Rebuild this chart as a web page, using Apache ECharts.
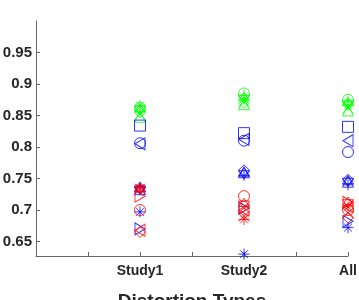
<!DOCTYPE html>
<html><head><meta charset="utf-8">
<script src="https://cdn.jsdelivr.net/npm/echarts@6/dist/echarts.min.js"></script>
<style>html,body{margin:0;padding:0;background:#fff}#c{width:359px;height:300px}</style>
</head><body><div id="c"></div>
<script>
// categories (positions 2, 4, 6 on a 0..6 axis)
const categories = ['Study1', 'Study2', 'All'];
const catPos = [2, 4, 6];
const yTicks = [0.65, 0.7, 0.75, 0.8, 0.85, 0.9, 0.95];

// green group: values for [Study1, Study2, All]
const greenCircle   = [0.862, 0.885, 0.875];
const greenPlus     = [0.857, 0.882, 0.872];
const greenStar     = [0.866, 0.876, 0.866];
const greenX        = [0.852, 0.872, 0.862];
const greenDiamond  = [0.855, 0.870, 0.868];
const greenHexagram = [0.860, 0.878, 0.870];
const greenTriangle = [0.848, 0.868, 0.858];

// blue group
const blueSquare    = [0.834, 0.822, 0.832];
const blueCircle    = [0.806, 0.810, 0.792];
const blueTriLeft   = [0.805, 0.812, 0.810];
const blueDiamond   = [0.735, 0.763, 0.748];
const blueTriUp     = [0.733, 0.760, 0.745];
const bluePlus      = [0.736, 0.755, 0.740];
const blueHexagram  = [0.733, 0.758, 0.746];
const blueStar      = [0.697, 0.630, 0.672];
const blueTriRight  = [0.670, 0.703, 0.682];

// red group
const redHexagram   = [0.734, 0.710, 0.712];
const redCircle     = [0.700, 0.722, 0.700];
const redTriRight   = [0.722, 0.703, 0.712];
const redDiamond    = [0.665, 0.695, 0.688];
const redTriLeft    = [0.668, 0.700, 0.705];
const redStar       = [0.735, 0.685, 0.705];
const redX          = [0.733, 0.690, 0.695];

const SYM = {
  circle: 'circle', square: 'rect', diamond: 'diamond', triUp: 'triangle',
  plus: 'path://M5,0L5,10M0,5L10,5',
  x: 'path://M0,0L10,10M10,0L0,10',
  star: 'path://M5,0L5,10M0,5L10,5M1.5,1.5L8.5,8.5M8.5,1.5L1.5,8.5',
  hexagram: 'path://M5,0L9.33,7.5L0.67,7.5Z M5,10L0.67,2.5L9.33,2.5Z',
  triLeft: 'path://M0,5L10,0L10,10Z',
  triRight: 'path://M10,5L0,0L0,10Z'
};
const GREEN = '#00ff00', BLUE = '#0000ff', RED = '#ff0000';

const groups = [
  [GREEN, 'circle', greenCircle], [GREEN, 'plus', greenPlus], [GREEN, 'star', greenStar],
  [GREEN, 'x', greenX], [GREEN, 'diamond', greenDiamond], [GREEN, 'hexagram', greenHexagram],
  [GREEN, 'triUp', greenTriangle],
  [BLUE, 'square', blueSquare], [BLUE, 'circle', blueCircle], [BLUE, 'triLeft', blueTriLeft],
  [BLUE, 'diamond', blueDiamond], [BLUE, 'triUp', blueTriUp], [BLUE, 'plus', bluePlus],
  [BLUE, 'hexagram', blueHexagram], [BLUE, 'star', blueStar], [BLUE, 'triRight', blueTriRight],
  [RED, 'hexagram', redHexagram], [RED, 'circle', redCircle], [RED, 'triRight', redTriRight],
  [RED, 'diamond', redDiamond], [RED, 'triLeft', redTriLeft], [RED, 'star', redStar],
  [RED, 'x', redX]
];

const series = groups.map(([col, sym, vals]) => ({
  type: 'scatter',
  symbol: SYM[sym],
  symbolSize: (sym === 'triLeft' || sym === 'triRight') ? [10, 12] : 11,
  data: vals.map((v, i) => [catPos[i], v]),
  itemStyle: { color: 'rgba(0,0,0,0)', borderColor: col, borderWidth: 1 },
  emphasis: { disabled: true },
  silent: true
}));

const axisCol = '#666666';
const chart = echarts.init(document.getElementById('c'), null, { renderer: 'canvas' });
chart.setOption({
  animation: false,
  backgroundColor: '#ffffff',
  grid: { left: 36, right: 11, top: 21, bottom: 44, containLabel: false, outerBoundsMode: 'none' },
  xAxis: {
    type: 'value', min: 0, max: 6, interval: 1,
    name: 'Distortion Types', nameLocation: 'middle', nameGap: 36,
    nameTextStyle: { fontFamily: 'Liberation Sans', fontWeight: 'bold', fontSize: 19, color: '#262626' },
    axisLine: { show: true, onZero: false, lineStyle: { color: axisCol, width: 1 } },
    axisTick: { show: true, inside: true, length: 4, lineStyle: { color: axisCol } },
    axisLabel: {
      customValues: catPos,
      formatter: v => categories[catPos.indexOf(v)] || '',
      fontFamily: 'Liberation Sans', fontWeight: 'bold', fontSize: 14, color: '#262626', margin: 8
    },
    splitLine: { show: false }
  },
  yAxis: {
    type: 'value', min: 0.627, max: 1.0,
    axisLine: { show: true, lineStyle: { color: axisCol, width: 1 } },
    axisTick: { show: true, inside: true, length: 4, customValues: yTicks, lineStyle: { color: axisCol } },
    axisLabel: {
      customValues: yTicks, formatter: v => String(+v.toFixed(2)),
      fontFamily: 'Liberation Sans', fontWeight: 'bold', fontSize: 15, color: '#262626', margin: 4
    },
    splitLine: { show: false }
  },
  series: series
});
</script></body></html>
